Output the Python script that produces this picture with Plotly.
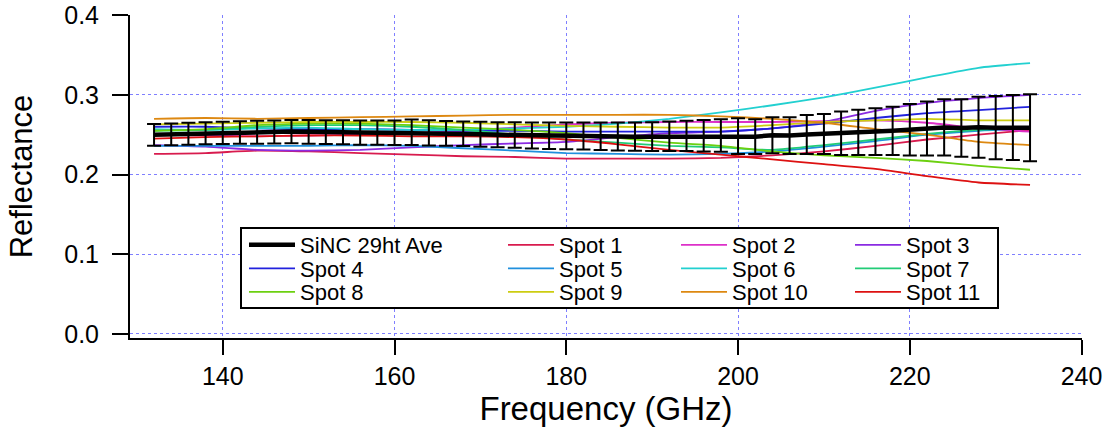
import plotly.graph_objects as go

# ---------------- data ----------------
F_AVG = [132, 134, 136, 138, 140, 142, 144, 146, 148, 150, 152, 154, 156, 158, 160,
         162, 164, 166, 168, 170, 172, 174, 176, 178, 180, 182, 184, 186, 188, 190,
         192, 194, 196, 198, 200, 202, 204, 206, 208, 210, 212, 214, 216, 218, 220,
         222, 224, 226, 228, 230, 232, 234]
AVG = [0.2499, 0.2505, 0.2512, 0.2518, 0.2522, 0.2527, 0.2531, 0.2535, 0.2539, 0.2536,
       0.2533, 0.2530, 0.2527, 0.2525, 0.2524, 0.2530, 0.2524, 0.2518, 0.2512, 0.2506,
       0.2500, 0.2495, 0.2491, 0.2488, 0.2485, 0.2484, 0.2480, 0.2478, 0.2476, 0.2476,
       0.2480, 0.2485, 0.2488, 0.2490, 0.2482, 0.2476, 0.2493, 0.2489, 0.2503, 0.2509,
       0.2518, 0.2529, 0.2539, 0.2549, 0.2562, 0.2577, 0.2592, 0.2585, 0.2595, 0.2589,
       0.2591, 0.2587]
AVG_ERR = [0.0136, 0.0137, 0.0138, 0.0139, 0.0140, 0.0141, 0.0143, 0.0145, 0.0146, 0.0148,
           0.0150, 0.0151, 0.0152, 0.0152, 0.0153, 0.0160, 0.0158, 0.0155, 0.0155, 0.0156,
           0.0158, 0.0160, 0.0163, 0.0166, 0.0168, 0.0168, 0.0172, 0.0175, 0.0177, 0.0180,
           0.0185, 0.0190, 0.0198, 0.0205, 0.0224, 0.0218, 0.0226, 0.0230, 0.0245, 0.0251,
           0.0272, 0.0283, 0.0293, 0.0303, 0.0324, 0.0339, 0.0354, 0.0360, 0.0383, 0.0398,
           0.0408, 0.0420]

F_SPOT = [132, 138, 144, 150, 156, 162, 168, 174, 180, 186, 192, 198, 204, 210, 216, 222, 228, 234]
SPOT1 = [0.226, 0.227, 0.230, 0.229, 0.227, 0.225, 0.223, 0.222, 0.220, 0.220, 0.220, 0.221, 0.224, 0.229, 0.236, 0.244, 0.250, 0.256]
SPOT2 = [0.250, 0.249, 0.248, 0.249, 0.250, 0.252, 0.255, 0.259, 0.263, 0.265, 0.266, 0.266, 0.266, 0.267, 0.268, 0.265, 0.258, 0.254]
SPOT3 = [0.237, 0.235, 0.231, 0.230, 0.231, 0.234, 0.237, 0.239, 0.241, 0.247, 0.252, 0.254, 0.258, 0.266, 0.280, 0.290, 0.296, 0.300]
SPOT4 = [0.260, 0.260, 0.258, 0.257, 0.257, 0.256, 0.255, 0.255, 0.254, 0.254, 0.254, 0.254, 0.258, 0.264, 0.271, 0.277, 0.281, 0.285]
SPOT5 = [0.236, 0.236, 0.236, 0.236, 0.237, 0.236, 0.233, 0.230, 0.227, 0.226, 0.225, 0.226, 0.229, 0.235, 0.242, 0.250, 0.255, 0.258]
SPOT6 = [0.257, 0.256, 0.258, 0.259, 0.257, 0.256, 0.256, 0.258, 0.260, 0.264, 0.270, 0.278, 0.287, 0.297, 0.309, 0.322, 0.334, 0.340]
SPOT7 = [0.255, 0.256, 0.260, 0.262, 0.262, 0.260, 0.256, 0.250, 0.244, 0.240, 0.236, 0.234, 0.231, 0.237, 0.244, 0.251, 0.256, 0.259]
SPOT8 = [0.255, 0.257, 0.262, 0.264, 0.264, 0.262, 0.259, 0.256, 0.252, 0.246, 0.240, 0.236, 0.229, 0.224, 0.221, 0.217, 0.211, 0.206]
SPOT9 = [0.263, 0.264, 0.265, 0.266, 0.266, 0.266, 0.265, 0.263, 0.261, 0.260, 0.259, 0.259, 0.262, 0.266, 0.268, 0.270, 0.268, 0.268]
SPOT10 = [0.270, 0.271, 0.270, 0.271, 0.272, 0.273, 0.274, 0.275, 0.275, 0.275, 0.275, 0.273, 0.270, 0.265, 0.257, 0.250, 0.241, 0.237]
SPOT11 = [0.245, 0.247, 0.248, 0.249, 0.249, 0.248, 0.248, 0.247, 0.244, 0.238, 0.231, 0.225, 0.219, 0.213, 0.207, 0.198, 0.190, 0.187]

SPOT_NAMES = ["Spot 1", "Spot 2", "Spot 3", "Spot 4", "Spot 5", "Spot 6",
              "Spot 7", "Spot 8", "Spot 9", "Spot 10", "Spot 11"]
SPOT_VALUES = [SPOT1, SPOT2, SPOT3, SPOT4, SPOT5, SPOT6, SPOT7, SPOT8, SPOT9, SPOT10, SPOT11]
SPOT_COLORS = ["#D81B4E", "#DD30C8", "#8A2BE2", "#2222DD", "#2090DD", "#22D0D0",
               "#22CC77", "#6CD010", "#CCCC11", "#DD8811", "#DD1111"]
AVG_NAME = "SiNC 29ht Ave"

X_TICKS = [140, 160, 180, 200, 220, 240]
Y_TICKS = [0.0, 0.1, 0.2, 0.3, 0.4]

# ---------------- figure ----------------
FONT = "Arial, Liberation Sans, sans-serif"
W, H = 1113, 430
ML, MR, MT, MB = 130, 31, 15, 92
PW, PH = W - ML - MR, H - MT - MB

def px_x(p):
    return (p - ML) / PW

def px_y(p):
    return (H - MB - p) / PH

fig = go.Figure()

# legend layout: 4 columns x 3 rows, filled row by row
order = [AVG_NAME] + SPOT_NAMES
COL_LINE_START = [250, 509, 682, 856]
ROW_CENTER = [245, 268.5, 292]
legend_of = {}
legend_layout = {}
for i, name in enumerate(order):
    col, row = i % 4, i // 4
    key = "legend" if i == 0 else "legend%d" % (i + 1)
    legend_of[name] = key
    legend_layout[key] = dict(
        x=px_x(COL_LINE_START[col] - 6), y=px_y(ROW_CENTER[row]),
        xanchor="left", yanchor="middle", bgcolor="rgba(0,0,0,0)", borderwidth=0,
        font=dict(family=FONT, size=22, color="black"), itemwidth=46,
        orientation="v",
    )

for name, vals, col in zip(SPOT_NAMES, SPOT_VALUES, SPOT_COLORS):
    fig.add_trace(go.Scatter(
        x=F_SPOT, y=vals, mode="lines", name=name,
        line=dict(color=col, width=1.8, shape="spline", smoothing=0.6),
        legend=legend_of[name],
    ))

fig.add_trace(go.Scatter(
    x=F_AVG, y=AVG, mode="lines", name=AVG_NAME,
    line=dict(color="black", width=4.5),
    error_y=dict(type="data", array=AVG_ERR, visible=True,
                 color="black", thickness=2, width=7),
    legend=legend_of[AVG_NAME],
))

grid = dict(showgrid=True, gridcolor="#7F7FFF", gridwidth=1, griddash="dot")

fig.update_xaxes(
    range=[129.2, 240.05], tickvals=X_TICKS, ticks="outside", ticklen=15,
    tickwidth=2, tickcolor="black", showline=True, linecolor="black", linewidth=2,
    zeroline=False, automargin=False, ticklabelstandoff=0,
    tickfont=dict(family=FONT, size=25, color="black"),
    title=dict(text="Frequency (GHz)", font=dict(family=FONT, size=33, color="black"),
               standoff=0),
    **grid,
)
fig.update_yaxes(
    range=[-0.0052, 0.4003], tickvals=Y_TICKS, tickformat=".1f", ticks="outside",
    ticklen=16, tickwidth=2, tickcolor="black", showline=True, linecolor="black",
    linewidth=2, zeroline=False, automargin=False, ticklabelstandoff=8,
    tickfont=dict(family=FONT, size=25, color="black"),
    title=dict(text="Reflectance", font=dict(family=FONT, size=31, color="black"),
               standoff=22),
    **grid,
)

# legend frame
fig.add_shape(type="rect", xref="paper", yref="paper",
              x0=px_x(241), x1=px_x(998), y0=px_y(308), y1=px_y(228),
              line=dict(color="black", width=2), fillcolor="white", layer="above")

fig.update_layout(**legend_layout)

fig.update_layout(
    width=W, height=H, autosize=False,
    margin=dict(l=ML, r=MR, t=MT, b=MB, autoexpand=False),
    paper_bgcolor="white", plot_bgcolor="white",
    font=dict(family=FONT, color="black"),
    showlegend=True,
)

fig.write_html(
    "out.html",
    config={"displayModeBar": False},
    post_script="document.body.style.margin='0px';document.body.style.overflow='hidden';",
)
